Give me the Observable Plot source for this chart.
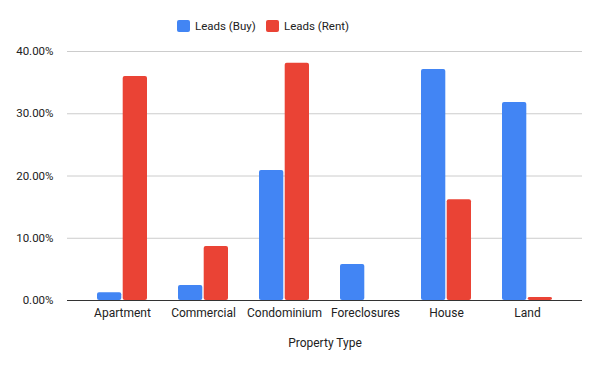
<!DOCTYPE html>
<html>
<head>
<meta charset="utf-8">
<script src="https://cdn.jsdelivr.net/npm/d3@7"></script>
<script src="https://cdn.jsdelivr.net/npm/@observablehq/plot@0.6"></script>
<style>
  html, body { margin: 0; padding: 0; background: #fff; }
  body { width: 600px; height: 371px; overflow: hidden; font-family: Roboto, "Liberation Sans", Arial, sans-serif; }
  #legend { position: relative; height: 40px; }
  .lg { position: absolute; top: 19px; display: flex; align-items: center; font-size: 11.5px; color: #222; }
  .sw { width: 13px; height: 12px; border-radius: 2px; margin-right: 5px; }
</style>
</head>
<body>
<div id="legend"></div>
<div id="chart"></div>
<script>
const categories = ["Apartment", "Commercial", "Condominium", "Foreclosures", "House", "Land"];
const seriesNames = ["Leads (Buy)", "Leads (Rent)"];
const buyValues = [0.0124, 0.0241, 0.209, 0.0579, 0.371, 0.318];
const rentValues = [0.360, 0.0868, 0.381, 0, 0.162, 0.0048];
const yTicks = [0, 0.1, 0.2, 0.3, 0.4];
const colors = ["#4285F4", "#EA4335"];
const xTitle = "Property Type";

const buyData = categories.map((c, i) => ({category: c, value: buyValues[i]}));
const rentData = categories.map((c, i) => ({category: c, value: rentValues[i]})).filter(d => d.value > 0);

// legend
const legend = document.getElementById("legend");
const legendX = [177, 266];
seriesNames.forEach((name, i) => {
  const item = document.createElement("div");
  item.className = "lg";
  item.style.left = legendX[i] + "px";
  item.innerHTML = `<div class="sw" style="background:${colors[i]}"></div><span>${name}</span>`;
  legend.appendChild(item);
});

const W = 600, H = 331;
const chart = Plot.plot({
  width: W,
  height: H,
  marginLeft: 67,
  marginRight: 18,
  marginTop: 11,
  marginBottom: 71,
  style: {fontFamily: "Roboto, 'Liberation Sans', Arial, sans-serif", fontSize: "11.5px", color: "#222", background: "#fff"},
  x: {domain: categories, paddingInner: 0.385, paddingOuter: 0.36, label: null, tickSize: 0, tickPadding: 8},
  y: {domain: [0, 0.4], ticks: yTicks, tickFormat: d3.format(".2%"), label: null, tickSize: 0, tickPadding: 14},
  marks: [
    Plot.gridY(yTicks, {stroke: "#ccc", strokeOpacity: 1, strokeWidth: 1}),
    Plot.axisY(yTicks, {tickSize: 0, tickPadding: 14, tickFormat: d3.format(".2%"), label: null, fontSize: 11.5}),
    Plot.axisX({tickSize: 0, tickPadding: 8, label: null, fontSize: 12}),
    Plot.barY(buyData, {x: "category", y: "value", fill: colors[0], insetRight: 25.7, rx: 2}),
    Plot.barY(rentData, {x: "category", y: "value", fill: colors[1], insetLeft: 25.7, rx: 2}),
    Plot.ruleY([0], {stroke: "#333", strokeWidth: 1}),
    Plot.text([xTitle], {frameAnchor: "bottom", dy: 46, fontSize: 12, fill: "#222", text: d => d})
  ]
});
document.getElementById("chart").appendChild(chart);
</script>
</body>
</html>
